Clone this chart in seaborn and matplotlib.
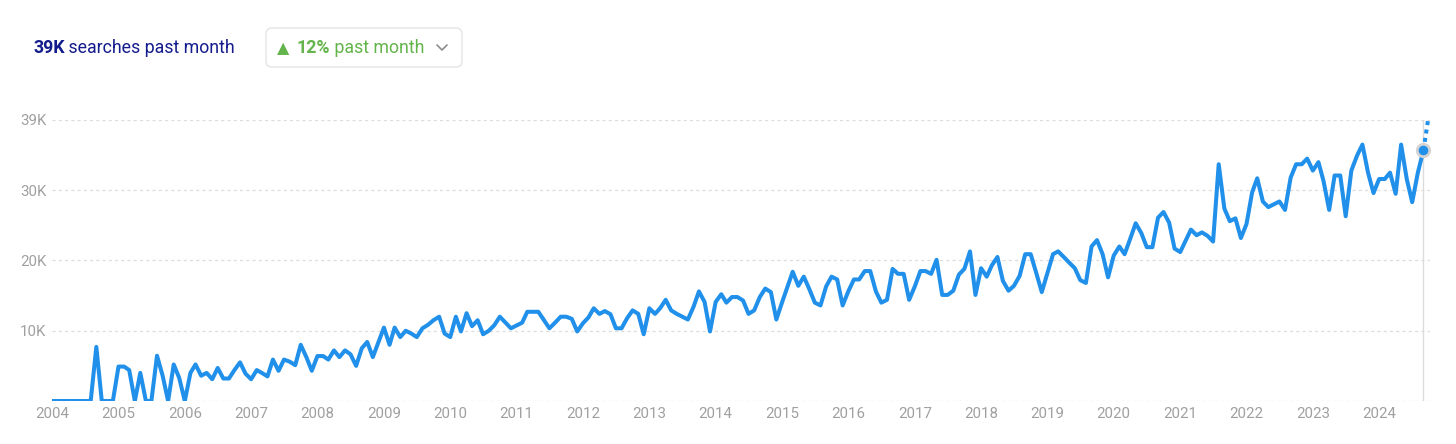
import numpy as np
import pandas as pd
import matplotlib
matplotlib.use("Agg")
import matplotlib.pyplot as plt
import seaborn as sns
from matplotlib.patches import FancyBboxPatch

# ---------------- data (thousands of monthly searches, Jan 2004 .. Sep 2024) ----------------
monthly_searches_k = [
    # 2004
    0, 0, 0, 0, 0, 0, 0, 0, 7.7, 0, 0, 0,
    # 2005
    4.9, 4.9, 4.4, 0, 4.0, 0, 0, 6.45, 3.6, 0, 5.2, 3.3,
    # 2006
    0, 4.0, 5.2, 3.6, 4.0, 3.1, 4.7, 3.2, 3.2, 4.4, 5.5, 3.9,
    # 2007
    3.1, 4.4, 4.0, 3.5, 5.9, 4.3, 5.9, 5.6, 5.1, 8.0, 6.25, 4.3,
    # 2008
    6.4, 6.4, 5.9, 7.2, 6.25, 7.2, 6.65, 5.0, 7.5, 8.4, 6.25, 8.3,
    # 2009
    10.45, 8.0, 10.45, 9.1, 10.0, 9.6, 9.1, 10.35, 10.85, 11.5, 12.0, 9.6,
    # 2010
    9.1, 12.0, 9.9, 12.5, 10.65, 11.5, 9.5, 10.0, 10.8, 12.0, 11.15, 10.35,
    # 2011
    10.75, 11.15, 12.7, 12.7, 12.7, 11.5, 10.35, 11.15, 12.0, 12.0, 11.7, 9.9,
    # 2012
    11.05, 11.9, 13.2, 12.4, 12.8, 12.35, 10.35, 10.35, 11.8, 12.9, 12.4, 9.5,
    # 2013
    13.2, 12.4, 13.2, 14.4, 12.9, 12.4, 12.0, 11.6, 13.4, 15.6, 14.1, 9.9,
    # 2014
    14.1, 15.2, 14.0, 14.8, 14.8, 14.3, 12.4, 12.9, 14.8, 16.0, 15.5, 11.6,
    # 2015
    14.0, 16.3, 18.4, 16.4, 17.7, 15.9, 14.0, 13.6, 16.3, 17.7, 17.3, 13.6,
    # 2016
    15.6, 17.3, 17.3, 18.5, 18.5, 15.6, 14.0, 14.4, 18.8, 18.1, 18.1, 14.4,
    # 2017
    16.3, 18.5, 18.5, 18.1, 20.1, 15.1, 15.1, 15.7, 18.0, 18.8, 21.3, 15.1,
    # 2018
    18.9, 17.7, 19.3, 20.5, 17.1, 15.7, 16.4, 17.8, 20.9, 20.9, 18.2, 15.5,
    # 2019
    18.2, 20.9, 21.3, 20.5, 19.7, 18.9, 17.2, 16.8, 22.0, 22.9, 20.9, 17.6,
    # 2020
    20.7, 22.0, 20.9, 23.1, 25.3, 23.9, 21.9, 21.9, 26.1, 26.9, 25.4, 21.7,
    # 2021
    21.2, 22.9, 24.4, 23.6, 24.0, 23.5, 22.7, 33.7, 27.4, 25.6, 26.0, 23.2,
    # 2022
    25.2, 29.7, 31.7, 28.4, 27.6, 28.0, 28.4, 27.2, 31.8, 33.7, 33.7, 34.5,
    # 2023
    32.8, 34.0, 31.3, 27.2, 32.1, 32.1, 26.3, 32.8, 34.9, 36.5, 32.5, 29.6,
    # 2024
    31.6, 31.6, 32.5, 29.5, 36.5, 31.6, 28.3, 32.5, 35.7,
]
forecast_k = 40.8
start_month = "2004-01-01"
year_ticks = list(range(2004, 2025))
y_ticks = [0, 10, 20, 30, 40]
y_tick_labels = ["", "10K", "20K", "30K", "39K"]
header_total = "39K"
header_total_text = " searches past month"
header_change = "12%"
header_change_text = " past month"

# ---------------- styling ----------------
BLUE = "#2090ea"
NAVY = "#141c8c"
GREEN = "#63b54b"
GRID = "#dddddd"
TICK = "#a0a0a0"

dates = pd.date_range(start_month, periods=len(monthly_searches_k), freq="MS")
df = pd.DataFrame({"date": dates, "searches": monthly_searches_k})
fc = pd.DataFrame({
    "date": [dates[-1], dates[-1] + pd.DateOffset(months=1)],
    "searches": [monthly_searches_k[-1], forecast_k],
})

sns.set_style("white")
plt.rcParams["font.family"] = ["Roboto", "DejaVu Sans"]

W, H = 1456, 444
fig = plt.figure(figsize=(W / 100, H / 100), dpi=100)
ax = fig.add_axes([52 / W, 43 / H, 1378 / W, 281 / H])

ax.axvline(dates[-1], color="#dcdcdc", lw=1.0, zorder=1)
sns.lineplot(data=df, x="date", y="searches", ax=ax, color=BLUE, lw=2.9, zorder=3)
sns.lineplot(data=fc, x="date", y="searches", ax=ax, color=BLUE, lw=2.9,
             linestyle=(0, (1.0, 1.1)), dash_capstyle="butt", zorder=3)
ax.scatter([dates[-1]], [monthly_searches_k[-1]], s=120, color="#d3d3d3", zorder=4, linewidths=0)
ax.scatter([dates[-1]], [monthly_searches_k[-1]], s=48, color=BLUE, zorder=5, linewidths=0)

ax.set_xlim(pd.Timestamp(start_month), pd.Timestamp("2024-10-07"))
ax.set_ylim(0, 40)
ax.set_xticks([pd.Timestamp(f"{y}-01-01") for y in year_ticks])
ax.set_xticklabels([str(y) for y in year_ticks])
ax.set_yticks(y_ticks)
ax.set_yticklabels(y_tick_labels)
ax.set_xlabel("")
ax.set_ylabel("")
for s in ax.spines.values():
    s.set_visible(False)
ax.yaxis.grid(True, color=GRID, linestyle=(0, (2.5, 2.5)), lw=0.9)
ax.xaxis.grid(False)
ax.set_axisbelow(True)
ax.tick_params(axis="both", length=0, colors=TICK, labelsize=10.8)
ax.tick_params(axis="y", pad=4)
ax.tick_params(axis="x", pad=4)
ax.patch.set_alpha(0)

# ---------------- header (pixel coordinates overlay) ----------------
hax = fig.add_axes([0, 0, 1, 1], zorder=-1)
hax.set_xlim(0, W)
hax.set_ylim(H, 0)
hax.axis("off")

t1 = hax.text(33, 53, header_total, fontsize=12.8, fontweight="bold", color=NAVY,
              ha="left", va="baseline")
hax.annotate(header_total_text, xy=(1, 0), xycoords=t1, fontsize=12.8, color=NAVY,
             ha="left", va="bottom")

box = FancyBboxPatch((266, 28), 196, 39, boxstyle="round,pad=0,rounding_size=6",
                     fc="white", ec="#e4e4e4", lw=1.0)
hax.add_patch(box)
hax.text(277, 53, "\u25B2", fontsize=11.5, color=GREEN, ha="left", va="baseline",
         family=["DejaVu Sans"])
t2 = hax.text(296, 53, header_change, fontsize=12.8, fontweight="bold", color=GREEN,
              ha="left", va="baseline")
hax.annotate(header_change_text, xy=(1, 0), xycoords=t2, fontsize=12.8, color=GREEN,
             ha="left", va="bottom")
hax.plot([437, 442, 447], [45, 50, 45], color="#8c8c8c", lw=1.2, solid_capstyle="round")

fig.savefig("out.png", dpi=100)
